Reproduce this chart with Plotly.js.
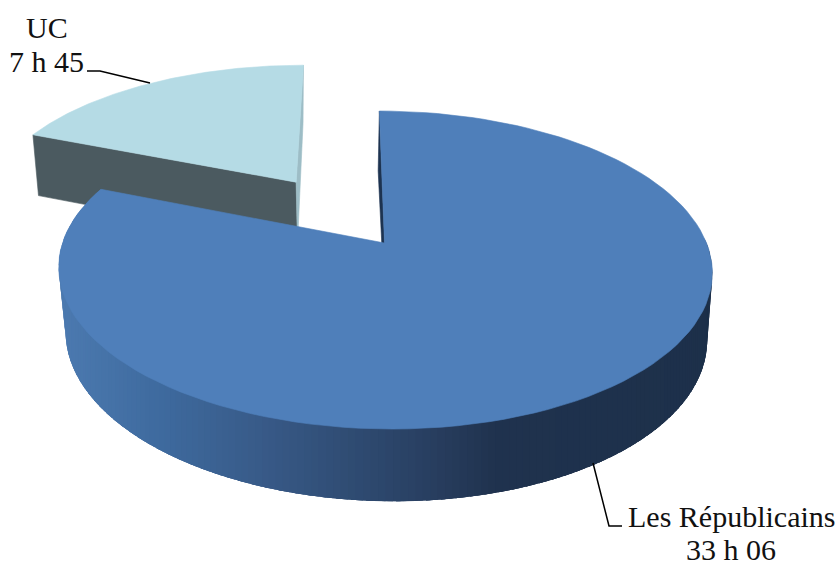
<!DOCTYPE html>
<html>
<head>
<meta charset="utf-8">
<script src="https://cdn.plot.ly/plotly-3.0.1.min.js"></script>
<style>html,body{margin:0;padding:0;background:#fff}#chart{width:838px;height:561px}</style>
</head>
<body>
<div id="chart"></div>
<script>
// Chart values
var categories = ['Les Républicains', 'UC'];
var hours = [33, 7];
var minutes = [6, 45];
var durationLabels = ['33 h 06', '7 h 45'];
var explode = [0, 0.51];
var sliceRadius = [1, 1.01];
var topColors = ['#4f7fba', '#b5dbe5'];
var cutWallColors = ['#1d3350', '#4b5a60'];
var innerWallColors = ['#1d3350', '#9dbdc6'];

var totals = hours.map(function (h, i) { return h * 60 + minutes[i]; });
var grand = totals.reduce(function (a, b) { return a + b; }, 0);
var blueSweep = 2 * Math.PI * totals[0] / grand;
var ucSweep = 2 * Math.PI * totals[1] / grand;

// Perspective view of a unit disc (top and bottom faces of the 3D pie), used on pixel-sized axes
var topPlane = {cx: 384.5, cy: 243, a: 322, b: 154.4, e: 6, k: 0.17};
var lowPlane = {cx: 385, cy: 308, a: 316, b: 160.4, e: 8, k: 0.17};
function project(plane, u, v) {
  var d = 1 - plane.k * v;
  return [plane.cx + (plane.a * u + plane.e * v) / d, plane.cy + plane.b * v / d];
}
function rim(plane, ang, off, r) {
  var R = r || 1;
  return project(plane, off[0] + R * Math.sin(ang), off[1] - R * Math.cos(ang));
}
function wedge(plane, a0, a1, off, r) {
  var pts = [project(plane, off[0], off[1])];
  var n = 120;
  for (var i = 0; i <= n; i++) pts.push(rim(plane, a0 + (a1 - a0) * i / n, off, r));
  pts.push(pts[0]);
  return pts;
}
function poly(pts, color, lw) {
  return {
    type: 'scatter', mode: 'lines',
    x: pts.map(function (p) { return p[0]; }),
    y: pts.map(function (p) { return p[1]; }),
    fill: 'toself', fillcolor: color,
    line: {color: color, width: lw === undefined ? 0.6 : lw},
    hoverinfo: 'skip', showlegend: false
  };
}
function line(pts) {
  return {
    type: 'scatter', mode: 'lines',
    x: pts.map(function (p) { return p[0]; }),
    y: pts.map(function (p) { return p[1]; }),
    line: {color: '#000', width: 1.5},
    hoverinfo: 'skip', showlegend: false
  };
}
// Colour stops for the shading of the outer wall, by screen x
var shadeX = [60, 160, 260, 360, 430, 495, 720];
var shadeC = [[76,122,176],[62,106,158],[56,90,136],[46,74,112],[40,62,96],[31,50,78],[29,48,74]];
function shade(x) {
  for (var i = 0; i < shadeX.length - 1; i++) {
    if (x <= shadeX[i + 1]) {
      var t = Math.max(0, (x - shadeX[i]) / (shadeX[i + 1] - shadeX[i]));
      var c = shadeC[i].map(function (s, j) { return Math.round(s + (shadeC[i + 1][j] - s) * t); });
      return 'rgb(' + c.join(',') + ')';
    }
  }
  return 'rgb(29,48,74)';
}

var traces = [];

// UC slice (pulled away from the pie along its middle angle)
var ucStart = blueSweep, ucEnd = blueSweep + ucSweep, ucMid = (ucStart + ucEnd) / 2;
var ucOff = [explode[1] * Math.sin(ucMid), -explode[1] * Math.cos(ucMid)];
var ucR = sliceRadius[1];
var tA = project(topPlane, ucOff[0], ucOff[1]), lA = project(lowPlane, ucOff[0], ucOff[1]);
traces.push(poly([tA, rim(topPlane, ucStart, ucOff, ucR), rim(lowPlane, ucStart, ucOff, ucR), lA, tA], cutWallColors[1]));
traces.push(poly([tA, rim(topPlane, ucEnd, ucOff, ucR), rim(lowPlane, ucEnd, ucOff, ucR), lA, tA], innerWallColors[1]));
traces.push(poly(wedge(topPlane, ucStart, ucEnd, ucOff, ucR), topColors[1]));

// Les Républicains: cut wall at its start edge
var o0 = [0, 0];
var tB = project(topPlane, 0, 0), lB = project(lowPlane, 0, 0);
traces.push(poly([tB, rim(topPlane, 0, o0), rim(lowPlane, 0, o0), lB, tB], innerWallColors[0]));

// Les Républicains: outer wall, full rim first (right to left) ...
var strips = 90;
var a0 = 0.49 * Math.PI, a1 = blueSweep;
for (var s = 0; s < strips; s++) {
  var p = a0 + (a1 - a0) * s / strips, q = a0 + (a1 - a0) * (s + 1.5) / strips;
  var A = rim(topPlane, p, o0), B = rim(topPlane, Math.min(q, a1), o0), C = rim(lowPlane, Math.min(q, a1), o0), D = rim(lowPlane, p, o0);
  traces.push(poly([A, B, C, D, A], shade((C[0] + D[0]) / 2), 0));
}
// ... then vertical colour bands over the visible front part
var bands = 150;
var b0 = 0.5 * Math.PI, b1 = 1.44 * Math.PI;
for (var t = 0; t < bands; t++) {
  var p2 = b0 + (b1 - b0) * t / bands, q2 = b0 + (b1 - b0) * (t + 1.6) / bands;
  var D2 = rim(lowPlane, p2, o0), C2 = rim(lowPlane, Math.min(q2, b1), o0);
  var A2 = rim(topPlane, p2, o0), B2 = rim(topPlane, Math.min(q2, b1), o0);
  traces.push(poly([[D2[0], A2[1] - 10], [C2[0], B2[1] - 10], C2, D2, [D2[0], A2[1] - 10]], shade((C2[0] + D2[0]) / 2), 0));
}
// Les Républicains: top face
traces.push(poly(wedge(topPlane, 0, blueSweep, o0), topColors[0]));

// Leader lines
traces.push(line([[87, 71], [100, 71], [150, 83]]));
traces.push(line([[593, 463], [609, 526], [622, 526]]));

var labelFont = {family: '"Liberation Serif", serif', size: 30, color: '#111'};
function label(x, y, text) {
  return {x: x, y: y, xref: 'x', yref: 'y', text: text, showarrow: false, font: labelFont, xanchor: 'center', yanchor: 'middle'};
}
var layout = {
  width: 838, height: 561,
  margin: {l: 0, r: 0, t: 0, b: 0},
  paper_bgcolor: '#fff', plot_bgcolor: '#fff',
  xaxis: {range: [0, 838], visible: false, fixedrange: true},
  yaxis: {range: [561, 0], visible: false, fixedrange: true},
  showlegend: false,
  annotations: [
    label(731, 516, categories[0]),
    label(731, 549, durationLabels[0]),
    label(47, 27, categories[1]),
    label(46, 61, durationLabels[1])
  ]
};
Plotly.newPlot('chart', traces, layout, {staticPlot: true, displayModeBar: false});
</script>
</body>
</html>
